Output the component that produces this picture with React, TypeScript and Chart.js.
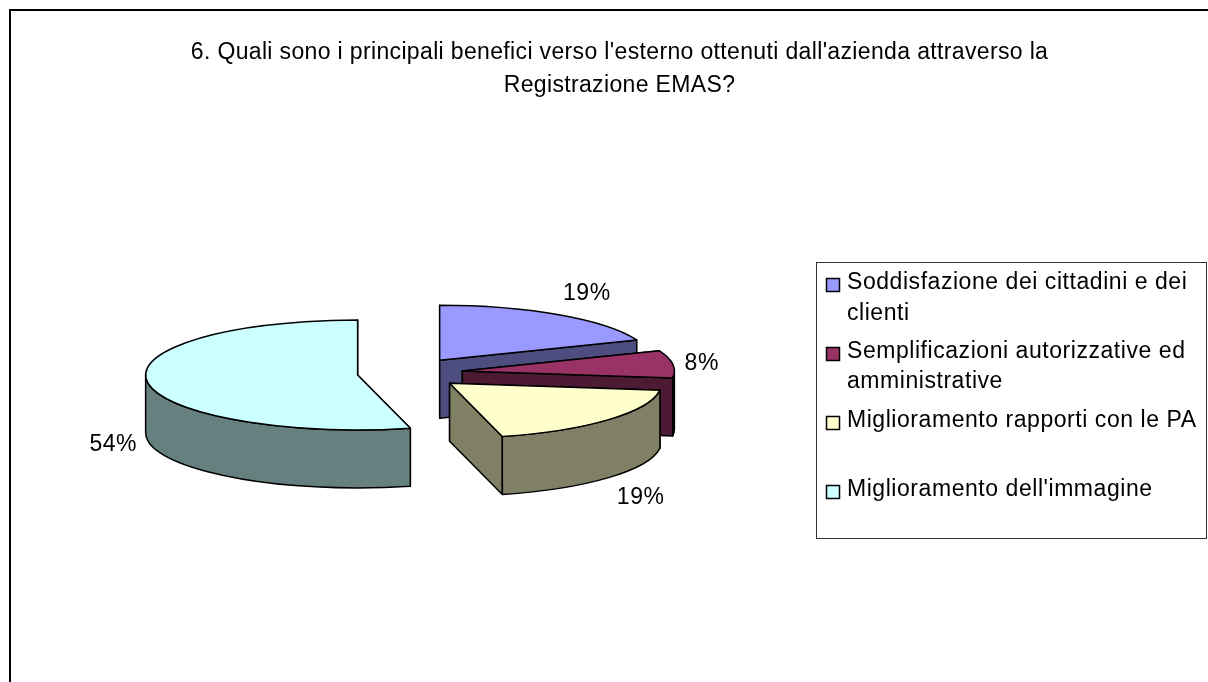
import React, { useEffect, useRef } from "react";
import { Chart, registerables } from "chart.js";

Chart.register(...registerables);

const titleLines = [
  "6. Quali sono i principali benefici verso l'esterno ottenuti dall'azienda attraverso la",
  "Registrazione EMAS?",
];
const categories = [
  "Soddisfazione dei cittadini e dei clienti",
  "Semplificazioni autorizzative ed amministrative",
  "Miglioramento rapporti con le PA",
  "Miglioramento dell'immagine",
];
const shares = [19, 8, 19, 54];
const topColors = ["#9999FF", "#993366", "#FFFFCC", "#CCFFFF"];
const wallColors = ["#4D4D80", "#4D1A33", "#808066", "#668080"];
const legendWrapped = [
  ["Soddisfazione dei cittadini e dei", "clienti"],
  ["Semplificazioni autorizzative ed", "amministrative"],
  ["Miglioramento rapporti con le PA"],
  ["Miglioramento dell'immagine"],
];

const FONT = '"Liberation Sans", Arial, sans-serif';
const W = 1223;
const H = 680;
const TILT = 55 / 212;
const EXPLODE_TILT = 0.293;
const EXPLODE = 52.8;
const DEPTH = 58;
const PIE_SHIFT_X = -209.5;
const labelNudges = [
  [28, -22],
  [29, -2],
  [32, 19],
  [-34, 4],
];
const legendBox = { left: 808.5, top: 254.5, right: 1198.5, bottom: 530.5 };
const legendRows = [
  { box: 270, lines: [281, 312] },
  { box: 339, lines: [350, 380] },
  { box: 408, lines: [419] },
  { box: 477, lines: [488] },
];

const piePlugin = {
  id: "pie3d",
  beforeDraw(chart: any) {
    chart.ctx.letterSpacing = "0.35px";
  },
  afterDatasetsUpdate(chart: any) {
    const area = chart.chartArea;
    const cx = (area.left + area.right) / 2 + PIE_SHIFT_X;
    const cy = (area.top + area.bottom) / 2;
    chart.getDatasetMeta(0).data.forEach((arc: any) => {
      const mid = (arc.startAngle + arc.endAngle) / 2;
      arc.x = cx + EXPLODE * Math.cos(mid);
      arc.y = cy + (EXPLODE * EXPLODE_TILT * Math.sin(mid)) / TILT;
    });
  },
  beforeDatasetsDraw(chart: any) {
    const ctx = chart.ctx;
    const area = chart.chartArea;
    const cy = (area.top + area.bottom) / 2;
    const screen = (arc: any, a: number) => [
      arc.x + arc.outerRadius * Math.cos(a),
      cy + (arc.y - cy) * TILT + arc.outerRadius * TILT * Math.sin(a),
    ];
    const apex = (arc: any) => [arc.x, cy + (arc.y - cy) * TILT];

    ctx.save();
    ctx.strokeStyle = "#000";
    ctx.lineWidth = 1.5;
    ctx.lineJoin = "round";
    chart.getDatasetMeta(0).data.forEach((arc: any, i: number) => {
      ctx.fillStyle = wallColors[i];
      for (const a of [arc.startAngle, arc.endAngle]) {
        const p = screen(arc, a);
        const q = apex(arc);
        ctx.beginPath();
        ctx.moveTo(q[0], q[1]);
        ctx.lineTo(p[0], p[1]);
        ctx.lineTo(p[0], p[1] + DEPTH);
        ctx.lineTo(q[0], q[1] + DEPTH);
        ctx.closePath();
        ctx.fill();
        ctx.stroke();
      }
      // outer wall: only the part of the rim facing the viewer
      const from = Math.max(arc.startAngle, 0);
      const to = Math.min(arc.endAngle, Math.PI);
      if (to > from) {
        const y0 = cy + (arc.y - cy) * TILT;
        ctx.beginPath();
        ctx.ellipse(arc.x, y0, arc.outerRadius, arc.outerRadius * TILT, 0, from, to);
        ctx.ellipse(arc.x, y0 + DEPTH, arc.outerRadius, arc.outerRadius * TILT, 0, to, from, true);
        ctx.closePath();
        ctx.fill();
        ctx.stroke();
      }
    });
    ctx.restore();

    // the slice tops are flattened by the view transform
    ctx.save();
    ctx.translate(0, cy);
    ctx.scale(1, TILT);
    ctx.translate(0, -cy);
  },
  afterDatasetsDraw(chart: any) {
    const ctx = chart.ctx;
    ctx.restore();
    const area = chart.chartArea;
    const cy = (area.top + area.bottom) / 2;
    ctx.save();
    ctx.strokeStyle = "#000";
    ctx.lineWidth = 1.5;
    ctx.lineJoin = "round";
    const values = chart.data.datasets[0].data;
    chart.getDatasetMeta(0).data.forEach((arc: any, i: number) => {
      const y0 = cy + (arc.y - cy) * TILT;
      const rx = arc.outerRadius;
      const ry = rx * TILT;
      ctx.beginPath();
      ctx.moveTo(arc.x, y0);
      ctx.ellipse(arc.x, y0, rx, ry, 0, arc.startAngle, arc.endAngle);
      ctx.closePath();
      ctx.stroke();

      const mid = (arc.startAngle + arc.endAngle) / 2;
      const front = Math.sin(mid) > 0 ? DEPTH : 0;
      ctx.fillStyle = "#000";
      ctx.font = `23px ${FONT}`;
      ctx.letterSpacing = "0.5px";
      ctx.textAlign = "center";
      ctx.textBaseline = "middle";
      ctx.fillText(
        `${values[i]}%`,
        arc.x + rx * Math.cos(mid) + labelNudges[i][0],
        y0 + ry * Math.sin(mid) + front + labelNudges[i][1] + 1,
      );
    });
    ctx.restore();
  },
  afterDraw(chart: any) {
    const ctx = chart.ctx;
    ctx.save();
    // outer frame, its right and bottom sides run off the picture
    ctx.strokeStyle = "#000";
    ctx.lineWidth = 2;
    ctx.strokeRect(2, 2, W + 20, H + 20);
    // legend
    ctx.lineWidth = 1;
    ctx.strokeStyle = "#333";
    const b = legendBox;
    ctx.strokeRect(b.left, b.top, b.right - b.left, b.bottom - b.top);
    ctx.font = `23px ${FONT}`;
    ctx.letterSpacing = "0.55px";
    ctx.textAlign = "left";
    ctx.textBaseline = "alphabetic";
    legendWrapped.forEach((lines, i) => {
      const row = legendRows[i];
      ctx.fillStyle = topColors[i];
      ctx.fillRect(818.5, row.box + 0.5, 13, 13);
      ctx.strokeStyle = "#000";
      ctx.lineWidth = 1.5;
      ctx.strokeRect(818.5, row.box + 0.5, 13, 13);
      ctx.fillStyle = "#000";
      lines.forEach((t, j) => ctx.fillText(t, 839, row.lines[j]));
    });
    ctx.restore();
  },
};

export default function App() {
  const ref = useRef<HTMLCanvasElement>(null);
  useEffect(() => {
    document.documentElement.style.overflow = "hidden";
    const chart = new Chart(ref.current as HTMLCanvasElement, {
      type: "pie",
      data: {
        labels: categories,
        datasets: [
          {
            data: shares,
            backgroundColor: topColors,
            borderWidth: 0,
            clip: false,
          } as any,
        ],
      },
      options: {
        responsive: false,
        animation: false,
        layout: { padding: { top: 28, left: 0, right: 0, bottom: 103 } },
        plugins: {
          legend: { display: false },
          tooltip: { enabled: false },
          title: {
            display: true,
            text: titleLines,
            color: "#000",
            align: "center",
            font: { family: FONT, size: 23, weight: "normal", lineHeight: 1.435 },
            padding: { top: 0, bottom: 59 },
          },
        },
      },
      plugins: [piePlugin],
    } as any);
    return () => chart.destroy();
  }, []);
  return (
    <div style={{ position: "fixed", left: 0, top: 0, width: 1208, height: 682, overflow: "hidden" }}>
      <canvas
        ref={ref}
        width={W}
        height={H}
        style={{ display: "block", position: "absolute", left: 8, top: 8, width: W, height: H }}
      />
    </div>
  );
}
